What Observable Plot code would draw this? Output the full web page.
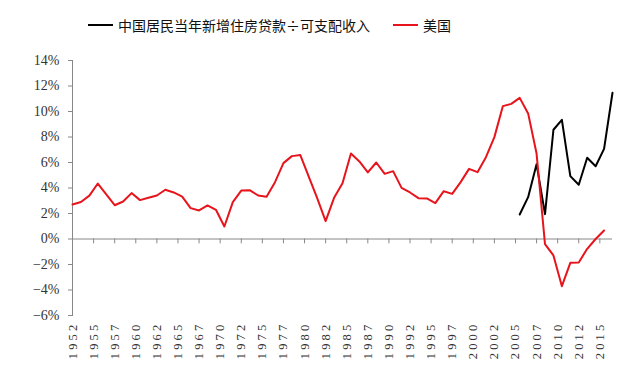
<!DOCTYPE html>
<html>
<head>
<meta charset="utf-8">
<script src="https://cdn.jsdelivr.net/npm/d3@7"></script>
<script src="https://cdn.jsdelivr.net/npm/@observablehq/plot@0.6"></script>
<style>
  html, body { margin: 0; padding: 0; background: #fff; }
  #legend { height: 50px; display: flex; align-items: center; padding-left: 88px; box-sizing: border-box;
    font-family: "Noto Sans CJK SC", sans-serif; font-size: 14px; color: #111; }
  .sw { display: inline-block; width: 25px; height: 2px; margin-right: 5px; }
  .item { display: flex; align-items: center; }
  g[aria-label="x-axis tick label"] text { letter-spacing: 3.2px; }
</style>
</head>
<body>
<div id="legend"></div>
<div id="chart"></div>
<script>
const seriesNames = ["中国居民当年新增住房贷款÷可支配收入", "美国"];
const seriesColors = ["#000000", "#e8141c"];

const usYears = [1952,1953,1954,1955,1956,1957,1958,1959,1960,1961,1962,1963,1964,1965,1966,1967,1968,1969,
  1970,1971,1972,1973,1974,1975,1976,1977,1978,1979,1980,1981,1982,1983,1984,1985,1986,1987,1988,1989,
  1990,1991,1992,1993,1994,1995,1996,1997,1998,1999,2000,2001,2002,2003,2004,2005,2006,2007,2008,2009,
  2010,2011,2012,2013,2014,2015];
const usValues = [2.7,2.9,3.4,4.35,3.5,2.65,2.94,3.6,3.05,3.23,3.41,3.86,3.65,3.33,2.42,2.24,2.63,2.29,
  0.98,2.89,3.8,3.83,3.41,3.31,4.46,5.95,6.5,6.58,4.9,3.2,1.4,3.23,4.38,6.7,6.08,5.22,6.0,5.11,
  5.32,4.01,3.65,3.2,3.18,2.81,3.75,3.54,4.46,5.5,5.24,6.42,7.99,10.42,10.6,11.07,9.85,6.7,-0.4,-1.29,
  -3.7,-1.87,-1.84,-0.77,0.0,0.67];

const cnYears = [2005,2006,2007,2008,2009,2010,2011,2012,2013,2014,2015,2016];
const cnValues = [1.92,3.28,5.87,1.95,8.57,9.35,4.93,4.25,6.37,5.71,7.07,11.47];

const yTicks = [-6,-4,-2,0,2,4,6,8,10,12,14];
const yTickLabels = ["−6%","−4%","−2%","0%","2%","4%","6%","8%","10%","12%","14%"];

const xTicks = [1952,1954.5,1957,1959.5,1962,1964.5,1967,1969.5,1972,1974.5,1977,1979.5,1982,1984.5,
  1987,1989.5,1992,1994.5,1997,1999.5,2002,2004.5,2007,2009.5,2012,2014.5];
const xTickLabels = ["1952","1955","1957","1960","1962","1965","1967","1970","1972","1975","1977","1980",
  "1982","1985","1987","1990","1992","1995","1997","2000","2002","2005","2007","2010","2012","2015"];

// legend
const legend = document.getElementById("legend");
seriesNames.forEach((n, i) => {
  const it = document.createElement("span");
  it.className = "item";
  it.style.marginRight = i === 0 ? "23px" : "0";
  const sw = document.createElement("span");
  sw.className = "sw";
  sw.style.background = seriesColors[i];
  const tx = document.createElement("span");
  tx.textContent = n;
  it.appendChild(sw); it.appendChild(tx);
  legend.appendChild(it);
});

const us = usYears.map((y, i) => ({year: y, value: usValues[i]}));
const cn = cnYears.map((y, i) => ({year: y, value: cnValues[i]}));

const chart = Plot.plot({
  width: 638,
  height: 316,
  marginLeft: 72,
  marginRight: 26,
  marginTop: 10,
  marginBottom: 51,
  style: {fontFamily: "'Liberation Serif', serif", background: "#fff"},
  x: {domain: [1952, 2016]},
  y: {domain: [-6, 14]},
  marks: [
    Plot.axisY({ticks: yTicks, tickFormat: d => yTickLabels[yTicks.indexOf(d)], tickSize: 4, tickPadding: 9,
      stroke: "#888", fill: "#333", fontSize: 14, label: null}),
    Plot.frame({anchor: "left", stroke: "#888"}),
    Plot.axisX({ticks: xTicks, tickFormat: d => xTickLabels[xTicks.indexOf(d)], tickSize: 0, tickPadding: 6,
      tickRotate: -90, fill: "#333", fontSize: 12.5, label: null}),
    Plot.ruleY([0], {stroke: "#888"}),
    Plot.ruleX(xTicks, {x: d => d, y1: 0, y2: -0.38, stroke: "#888"}),
    Plot.line(cn, {x: "year", y: "value", stroke: seriesColors[0], strokeWidth: 2}),
    Plot.line(us, {x: "year", y: "value", stroke: seriesColors[1], strokeWidth: 2})
  ]
});
document.getElementById("chart").appendChild(chart);
</script>
</body>
</html>
